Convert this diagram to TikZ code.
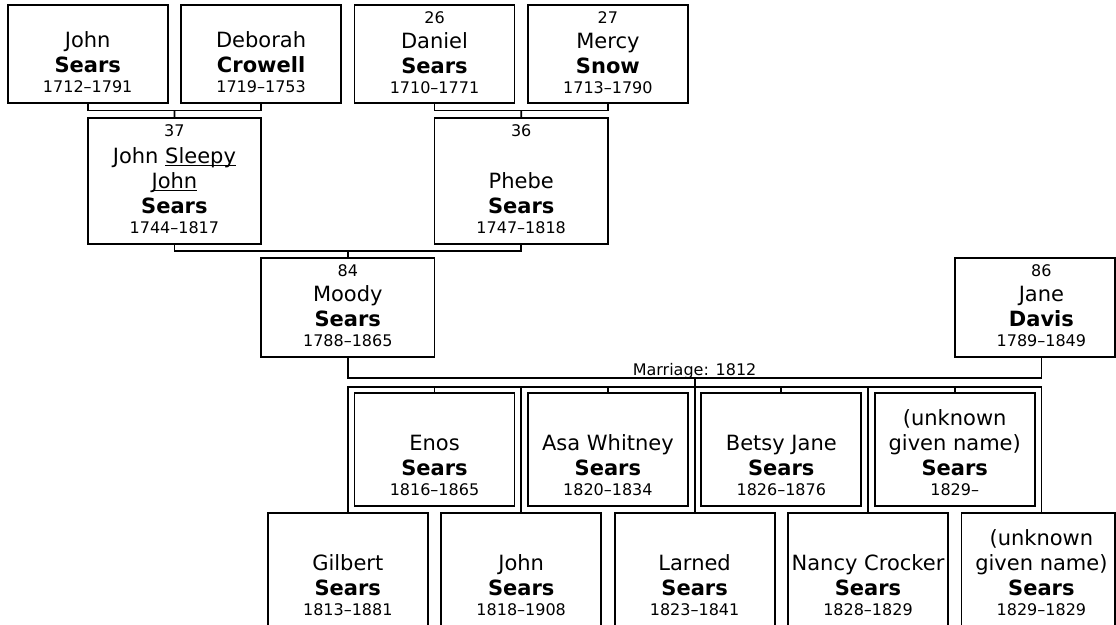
\documentclass[tikz,border=0pt]{standalone}
\usepackage{fontspec}
\setmainfont{DejaVu Sans}
\usetikzlibrary{calc}

% one person card: [shift]{width}{height}{number}{given}{surname}{years}
\newcommand\person[7][0pt]{%
  \parbox[c][#3][s]{#2}{\centering\advance\leftskip#1\relax
    \ifx\relax#4\relax\else
      {\fontsize{16}{19}\selectfont\rule{0pt}{18pt}#4\par}
    \fi
    \vfill
    {\fontsize{21}{25}\selectfont #5\par
     \bfseries #6\par}
    {\fontsize{16}{20}\selectfont #7\par}
    \vspace{10pt}}}
\newcommand\nick[1]{\leavevmode\setbox0\hbox{#1}\rlap{\rule[-2pt]{\wd0}{1.2pt}}\box0}

\begin{document}
\begin{tikzpicture}[x=1pt, y=-1pt,
    card/.style={draw, line width=1.8pt, inner sep=0pt, outer sep=0pt, anchor=north},
    link/.style={line width=1.8pt},
    lab/.style={font=\fontsize{16}{19}\selectfont, inner sep=0pt},
]
\def\X#1{1 + #1*86.7}
\useasboundingbox (0,0) rectangle (1116,624);
\clip (0,0) rectangle (1116,624);

% great-grandparents
\node[card] (john) at ({\X{1}}, 5) {\person{160pt}{98pt}{}{John}{Sears}{1712--1791}};
\node[card] (deborah) at ({\X{3}}, 5) {\person{160pt}{98pt}{}{Deborah}{Crowell}{1719--1753}};
\node[card] (daniel) at ({\X{5}}, 5) {\person{160pt}{98pt}{26}{Daniel}{Sears}{1710--1771}};
\node[card] (mercy) at ({\X{7}}, 5) {\person{160pt}{98pt}{27}{Mercy}{Snow}{1713--1790}};

% grandparents
\node[card] (sleepy) at ({\X{2}}, 118) {\person{173.4pt}{126pt}{37}{John \nick{Sleepy}\\\nick{John}}{Sears}{1744--1817}};
\node[card] (phebe) at ({\X{6}}, 118) {\person{173.4pt}{126pt}{36}{Phebe}{Sears}{1747--1818}};

% the couple
\node[card] (moody) at ({\X{4}}, 258) {\person{173.4pt}{99pt}{84}{Moody}{Sears}{1788--1865}};
\node[card, anchor=north west] (jane) at ({\X{11}}, 258) {\person[13.1pt]{160.3pt}{99pt}{86}{Jane}{Davis}{1789--1849}};

% children, upper row
\node[card] (enos) at ({\X{5}}, 393) {\person{160pt}{113pt}{}{Enos}{Sears}{1816--1865}};
\node[card] (asa) at ({\X{7}}, 393) {\person{160pt}{113pt}{}{Asa Whitney}{Sears}{1820--1834}};
\node[card] (betsy) at ({\X{9}}, 393) {\person{160pt}{113pt}{}{Betsy Jane}{Sears}{1826--1876}};
\node[card] (unka) at ({\X{11}}, 393) {\person{160pt}{113pt}{}{(unknown\\given name)}{Sears}{1829--}};

% children, lower row
\node[card] (gilbert) at ({\X{4}}, 513) {\person{160pt}{113pt}{}{Gilbert}{Sears}{1813--1881}};
\node[card] (johnjr) at ({\X{6}}, 513) {\person{160pt}{113pt}{}{John}{Sears}{1818--1908}};
\node[card] (larned) at ({\X{8}}, 513) {\person{160pt}{113pt}{}{Larned}{Sears}{1823--1841}};
\node[card] (nancy) at ({\X{10}}, 513) {\person{160pt}{113pt}{}{Nancy Crocker}{Sears}{1828--1829}};
\node[card, anchor=north west] (unkb) at ({\X{12} - 80}, 513) {\person[6.4pt]{153.6pt}{113pt}{}{(unknown\\given name)}{Sears}{1829--1829}};

% parent brackets
\coordinate (m1) at ($(john.south)!0.5!(deborah.south) + (0,7.5)$);
\coordinate (m2) at ($(daniel.south)!0.5!(mercy.south) + (0,7.5)$);
\coordinate (m3) at ($(sleepy.south)!0.5!(phebe.south) + (0,7)$);
\draw[link] (john.south) |- (m1) -| (deborah.south);
\draw[link] (m1) -- (sleepy.north);
\draw[link] (daniel.south) |- (m2) -| (mercy.south);
\draw[link] (m2) -- (phebe.north);
\draw[link] (sleepy.south) |- (m3) -| (phebe.south);
\draw[link] (m3) -- (moody.north);

% marriage and children
\coordinate (col12) at ({\X{12}}, 0);
\coordinate (wed) at ({\X{8}}, 378);
\coordinate (sib) at ({\X{8}}, 387);
\draw[link] (moody.south) |- (wed) -| (col12 |- jane.south);
\node[lab, anchor=base] (wedlab) at ($(wed) + (0,-3)$) {Marriage: 1812};
\draw[link] (wed) -- (sib);
\draw[link] (gilbert.north) |- (sib) -| (col12 |- unkb.north);
\foreach \k in {enos, johnjr, asa, larned, betsy, nancy, unka}
    \draw[link] (\k.north) -- (\k.north |- sib);
\end{tikzpicture}
\end{document}
